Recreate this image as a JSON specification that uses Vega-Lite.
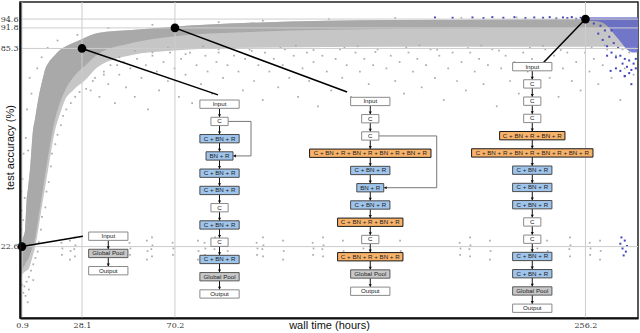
{
"$schema": "https://vega.github.io/schema/vega-lite/v6.json",
"width": 618, "height": 316,
"autosize": "none",
"padding": {"left": 20, "top": 2, "right": 2, "bottom": 15},
"background": "white",
"config": {"view": {"stroke": "#222", "strokeWidth": 1.5}},
"datasets": {
"band": [
{"t":0.3,"lo":12.5,"core":13.5,"hi":23},{"t":0.9,"lo":13.6,"core":15,"hi":24.7},{"t":2.3,"lo":14.6,"core":17,"hi":27.8},{"t":3.0,"lo":15.0,"core":18,"hi":37.3},{"t":3.6,"lo":15.2,"core":18.5,"hi":41},{"t":4.5,"lo":16.5,"core":20,"hi":46.8},{"t":5.9,"lo":20,"core":23,"hi":59.5},{"t":6.8,"lo":22.2,"core":25,"hi":63},{"t":8.2,"lo":27.8,"core":31,"hi":69},{"t":10.4,"lo":37.3,"core":41,"hi":76},{"t":11.3,"lo":41,"core":45,"hi":78.5},{"t":12.7,"lo":46.8,"core":51,"hi":80.5},{"t":15.9,"lo":59.5,"core":63,"hi":83.2},{"t":18.1,"lo":64.5,"core":68,"hi":84.8},{"t":20.4,"lo":69,"core":72,"hi":85.8},{"t":24,"lo":72,"core":76,"hi":87},{"t":27.2,"lo":74,"core":78.5,"hi":88},{"t":28.1,"lo":74.4,"core":79,"hi":88.3},{"t":35.3,"lo":79.4,"core":83.5,"hi":90.2},{"t":50.7,"lo":83.2,"core":87,"hi":91.1},{"t":68,"lo":84.6,"core":89,"hi":92.1},{"t":104,"lo":85.5,"core":90.5,"hi":93.4},{"t":172,"lo":85.8,"core":91.5,"hi":94.3},{"t":263,"lo":85.8,"core":91.8,"hi":94.6},{"t":280,"lo":85.8,"core":92,"hi":94.8}
],
"gp": [
{"t":32,"a":72},{"t":34,"a":76},{"t":36,"a":70},{"t":38,"a":78},{"t":40,"a":74},{"t":41,"a":80},{"t":43,"a":68},{"t":45,"a":77},{"t":47,"a":81},{"t":48,"a":73},{"t":50,"a":79},{"t":52,"a":70},{"t":53,"a":82},{"t":55,"a":76},{"t":57,"a":80},{"t":58,"a":66},{"t":60,"a":83},{"t":62,"a":78},{"t":63,"a":72},{"t":65,"a":81},{"t":67,"a":75},{"t":68,"a":84},{"t":70,"a":79},{"t":72,"a":70},{"t":73,"a":82},{"t":75,"a":77},{"t":77,"a":84},{"t":78,"a":68},{"t":80,"a":80},{"t":82,"a":74},{"t":84,"a":83},{"t":85,"a":78},{"t":87,"a":71},{"t":89,"a":81},{"t":90,"a":84},{"t":92,"a":76},{"t":94,"a":80},{"t":95,"a":67},{"t":97,"a":83},{"t":99,"a":78},{"t":101,"a":72},{"t":102,"a":82},{"t":104,"a":85},{"t":106,"a":75},{"t":108,"a":80},{"t":110,"a":69},{"t":111,"a":84},{"t":113,"a":78},{"t":115,"a":82},{"t":117,"a":73},{"t":119,"a":80},{"t":120,"a":85},{"t":122,"a":76},{"t":124,"a":83},{"t":126,"a":70},{"t":128,"a":79},{"t":130,"a":84},{"t":131,"a":75},{"t":133,"a":81},{"t":135,"a":67},{"t":137,"a":83},{"t":139,"a":78},{"t":141,"a":72},{"t":143,"a":82},{"t":145,"a":85},{"t":146,"a":76},{"t":148,"a":80},{"t":150,"a":70},{"t":152,"a":84},{"t":154,"a":78},{"t":156,"a":82},{"t":158,"a":74},{"t":160,"a":80},{"t":162,"a":85},{"t":164,"a":68},{"t":166,"a":79},{"t":168,"a":83},{"t":170,"a":75},{"t":172,"a":81},{"t":174,"a":71},{"t":176,"a":84},{"t":178,"a":78},{"t":180,"a":82},{"t":182,"a":73},{"t":184,"a":80},{"t":186,"a":85},{"t":188,"a":76},{"t":190,"a":83},{"t":192,"a":69},{"t":194,"a":79},{"t":196,"a":84},{"t":198,"a":75},{"t":200,"a":81},{"t":202,"a":72},{"t":204,"a":84},{"t":206,"a":78},{"t":208,"a":82},{"t":210,"a":74},{"t":212,"a":80},{"t":214,"a":85},{"t":216,"a":67},{"t":218,"a":79},{"t":220,"a":83},{"t":222,"a":75},{"t":224,"a":81},{"t":226,"a":71},{"t":228,"a":84},{"t":230,"a":78},{"t":232,"a":82},{"t":234,"a":73},{"t":236,"a":80},{"t":238,"a":85},{"t":240,"a":76},{"t":242,"a":83},{"t":244,"a":70},{"t":246,"a":79},{"t":248,"a":84},{"t":250,"a":75},{"t":252,"a":81},{"t":254,"a":72},{"t":256,"a":84},{"t":258,"a":78},{"t":260,"a":82},{"t":262,"a":74},{"t":264,"a":80},{"t":266,"a":85},{"t":268,"a":76},{"t":270,"a":83},{"t":272,"a":69},{"t":274,"a":79},{"t":276,"a":84},{"t":278,"a":77},
{"t":45,"a":82.5},{"t":60,"a":84},{"t":75,"a":83.5},{"t":90,"a":85},{"t":105,"a":84.5},{"t":118,"a":85.5},{"t":133,"a":84.8},{"t":147,"a":85.5},{"t":161,"a":84.2},{"t":175,"a":85.6},{"t":189,"a":84.9},{"t":203,"a":85.4},{"t":217,"a":84.6},{"t":231,"a":85.5},{"t":245,"a":84.8},{"t":259,"a":85.6},{"t":273,"a":85},{"t":52,"a":84.5},{"t":67,"a":85.6},{"t":83,"a":86},{"t":97,"a":85.3},{"t":125,"a":86.2},{"t":153,"a":86},{"t":181,"a":86.3},{"t":209,"a":86.2},{"t":237,"a":86.1},{"t":265,"a":86.3},
{"t":60,"a":92.8},{"t":90,"a":93.6},{"t":110,"a":94.1},{"t":140,"a":94.6},{"t":170,"a":94.9},{"t":200,"a":95},{"t":225,"a":95.1},{"t":250,"a":95.2},
{"t":0.5,"a":28},{"t":0.8,"a":34},{"t":0.6,"a":40},{"t":1.4,"a":31},{"t":1.1,"a":44},{"t":2.1,"a":38},{"t":1.6,"a":52},{"t":2.6,"a":57},{"t":3.7,"a":53},{"t":3.2,"a":66},{"t":5.2,"a":71},{"t":4.4,"a":76},{"t":7.8,"a":79},{"t":9.8,"a":82.5},{"t":12.5,"a":85.5},{"t":17,"a":87.8},{"t":26,"a":89.6},{"t":40,"a":91.8},
{"t":2,"a":10},{"t":3,"a":11.5},{"t":4,"a":13},{"t":5,"a":15},{"t":6,"a":17},{"t":7,"a":19},{"t":8,"a":21},{"t":8.5,"a":24},{"t":9.5,"a":28},{"t":10,"a":32},{"t":11.5,"a":35},{"t":12,"a":40},{"t":13,"a":43},{"t":14,"a":48},{"t":14.5,"a":52},{"t":16,"a":55},{"t":17,"a":58},{"t":18.5,"a":61},{"t":19.5,"a":64},{"t":21,"a":66},{"t":23,"a":68},{"t":25,"a":70},{"t":27,"a":71.5},{"t":30,"a":72.5},{"t":33,"a":75},{"t":38,"a":77},{"t":44,"a":80},{"t":2.5,"a":7},{"t":4,"a":9},{"t":1.5,"a":8},{"t":6,"a":12},{"t":3.5,"a":5},{"t":1,"a":10.5},
{"t":19,"a":20.0},{"t":19.2,"a":22.0},{"t":18.8,"a":23.8},
{"t":22.6,"a":18.5},{"t":22.9,"a":21.2},{"t":22.6,"a":24.5},
{"t":24.9,"a":19.5},{"t":24.6,"a":21.8},{"t":25.1,"a":23.0},{"t":24.9,"a":25.5},
{"t":49.8,"a":20.0},{"t":50.0,"a":22.0},{"t":49.6,"a":23.8},
{"t":57.5,"a":18.5},{"t":57.8,"a":21.2},{"t":57.5,"a":24.5},
{"t":59.8,"a":19.5},{"t":59.5,"a":21.8},{"t":60.0,"a":23.0},{"t":59.8,"a":25.5},
{"t":69.3,"a":20.0},{"t":69.5,"a":22.0},{"t":69.1,"a":23.8},
{"t":80.6,"a":18.5},{"t":80.9,"a":21.2},{"t":80.6,"a":24.5},
{"t":83.8,"a":20.0},{"t":84.0,"a":22.0},{"t":83.6,"a":23.8},
{"t":88.4,"a":19.5},{"t":88.1,"a":21.8},{"t":88.6,"a":23.0},{"t":88.4,"a":25.5},
{"t":93.8,"a":18.5},{"t":94.1,"a":21.2},{"t":93.8,"a":24.5},
{"t":107.4,"a":20.0},{"t":107.6,"a":22.0},{"t":107.2,"a":23.8},
{"t":110.1,"a":19.5},{"t":109.8,"a":21.8},{"t":110.3,"a":23.0},{"t":110.1,"a":25.5},
{"t":119.2,"a":18.5},{"t":119.5,"a":21.2},{"t":119.2,"a":24.5},
{"t":132.8,"a":20.0},{"t":133.0,"a":22.0},{"t":132.6,"a":23.8},
{"t":137.3,"a":19.5},{"t":137.0,"a":21.8},{"t":137.5,"a":23.0},{"t":137.3,"a":25.5},
{"t":146.3,"a":18.5},{"t":146.6,"a":21.2},{"t":146.3,"a":24.5},
{"t":155.4,"a":20.0},{"t":155.6,"a":22.0},{"t":155.2,"a":23.8},
{"t":172.2,"a":18.5},{"t":172.5,"a":21.2},{"t":172.2,"a":24.5},
{"t":199.4,"a":20.0},{"t":199.6,"a":22.0},{"t":199.2,"a":23.8},
{"t":203.9,"a":19.5},{"t":203.6,"a":21.8},{"t":204.1,"a":23.0},{"t":203.9,"a":25.5},
{"t":212.9,"a":18.5},{"t":213.2,"a":21.2},{"t":212.9,"a":24.5},
{"t":234.2,"a":20.0},{"t":234.4,"a":22.0},{"t":234.0,"a":23.8},
{"t":238.8,"a":18.5},{"t":239.1,"a":21.2},{"t":238.8,"a":24.5},
{"t":249.2,"a":19.5},{"t":248.9,"a":21.8},{"t":249.4,"a":23.0},{"t":249.2,"a":25.5},
{"t":258.3,"a":20.0},{"t":258.5,"a":22.0},{"t":258.1,"a":23.8},
{"t":262.8,"a":18.5},{"t":263.1,"a":21.2},{"t":262.8,"a":24.5}
],
"bband": [
{"t":256,"lo":94.2,"hi":95.2},{"t":262,"lo":93.8,"hi":95.2},{"t":266,"lo":92.5,"hi":95.2},{"t":269,"lo":90,"hi":95.2},{"t":272,"lo":87.5,"hi":95.2},{"t":275,"lo":85,"hi":95.2},{"t":278,"lo":84,"hi":95.2},{"t":280,"lo":84,"hi":95.2}
],
"bp": [
{"t":262,"a":90},{"t":264,"a":88},{"t":265,"a":91},{"t":266,"a":86},{"t":267,"a":89},{"t":268,"a":84},{"t":269,"a":87},{"t":270,"a":82.5},{"t":271,"a":85.5},{"t":272,"a":83},{"t":273,"a":80.5},{"t":274,"a":82},{"t":275,"a":79.5},{"t":276,"a":81.5},{"t":277,"a":78.5},{"t":278,"a":80.5},{"t":279,"a":82},{"t":270,"a":79},{"t":274,"a":76.5},{"t":277,"a":74},{"t":266,"a":83},{"t":263,"a":92.5},{"t":260,"a":93.2},{"t":268,"a":91},{"t":279,"a":79},{"t":276,"a":77.5},
{"t":188,"a":95.1},{"t":196,"a":95.0},{"t":205,"a":95.1},{"t":210,"a":94.9},{"t":214,"a":95.2},{"t":219,"a":95.0},{"t":224,"a":95.2},{"t":229,"a":94.9},{"t":233,"a":95.1},{"t":237,"a":95.0},{"t":240,"a":95.2},{"t":243,"a":94.8},{"t":246,"a":95.1},{"t":248,"a":94.9},{"t":250,"a":95.2},{"t":252,"a":94.7},{"t":254,"a":95.0},
{"t":267.6,"a":78.2},{"t":272,"a":78.2},{"t":274,"a":76.6},
{"t":272,"a":23.5},{"t":273,"a":22},{"t":274,"a":24.5},{"t":274.5,"a":21},{"t":275,"a":22.8},{"t":273.5,"a":19.8},{"t":272.5,"a":25.5}
],
"gx": [{"v":0.9},{"v":28.1},{"v":70.2},{"v":256.2}],
"gy": [{"v":22.6},{"v":85.3},{"v":91.8},{"v":94.6}],
"call": [
{"g":0,"t":0.9,"a":22.6},{"g":0,"t":28.5,"a":25.9},{"g":1,"t":28.1,"a":85.3},{"g":1,"t":89.7,"a":70.6},{"g":2,"t":70.2,"a":91.8},{"g":2,"t":148.2,"a":71.5},{"g":3,"t":256.2,"a":94.6},{"g":3,"t":237.0,"a":80.7}
],
"dots": [{"t":0.9,"a":22.6},{"t":28.1,"a":85.3},{"t":70.2,"a":91.8},{"t":256.2,"a":94.6}],
"skip": [
{"g":1,"o":1,"t":94.3,"a":62.21},{"g":1,"o":2,"t":104.66,"a":62.21},{"g":1,"o":3,"t":104.66,"a":51.29},{"g":1,"o":4,"t":96.5,"a":51.29},
{"g":2,"o":1,"t":162.6,"a":57.61},{"g":2,"o":2,"t":188.8,"a":57.61},{"g":2,"o":3,"t":188.8,"a":41.23},{"g":2,"o":4,"t":164.8,"a":41.23}
],
"skiphead": [{"t":96.5,"a":51.29},{"t":164.8,"a":41.23}],
"arrows": [
{"t":40.0,"f":24.57,"to":21.75},{"t":40.0,"f":19.11,"to":16.29},
{"t":90.4,"f":66.35,"to":63.52},{"t":90.4,"f":60.89,"to":58.06},{"t":90.4,"f":55.43,"to":52.60},{"t":90.4,"f":49.97,"to":47.14},{"t":90.4,"f":44.51,"to":41.68},{"t":90.4,"f":39.05,"to":36.22},{"t":90.4,"f":33.59,"to":30.76},{"t":90.4,"f":28.13,"to":25.30},{"t":90.4,"f":22.67,"to":19.84},{"t":90.4,"f":17.21,"to":14.38},{"t":90.4,"f":11.75,"to":8.92},
{"t":158.7,"f":67.21,"to":64.38},{"t":158.7,"f":61.75,"to":58.92},{"t":158.7,"f":56.29,"to":53.46},{"t":158.7,"f":50.83,"to":48.0},{"t":158.7,"f":45.37,"to":42.54},{"t":158.7,"f":39.91,"to":37.08},{"t":158.7,"f":34.45,"to":31.62},{"t":158.7,"f":28.99,"to":26.16},{"t":158.7,"f":23.53,"to":20.70},{"t":158.7,"f":18.07,"to":15.24},{"t":158.7,"f":12.61,"to":9.78},
{"t":232.1,"f":78.22,"to":75.40},{"t":232.1,"f":72.76,"to":69.94},{"t":232.1,"f":67.30,"to":64.48},{"t":232.1,"f":61.84,"to":59.02},{"t":232.1,"f":56.38,"to":53.56},{"t":232.1,"f":50.92,"to":48.10},{"t":232.1,"f":45.46,"to":42.63},{"t":232.1,"f":40.0,"to":37.17},{"t":232.1,"f":34.54,"to":31.71},{"t":232.1,"f":29.08,"to":26.25},{"t":232.1,"f":23.62,"to":20.79},{"t":232.1,"f":18.16,"to":15.33},{"t":232.1,"f":12.70,"to":9.87},{"t":232.1,"f":7.24,"to":4.41}
],
"boxes": [
{"t1":31.1,"t2":48.9,"a1":27.21,"a2":24.57,"tc":40.0,"ac":25.89,"lab":"Input","k":"w"},
{"t1":31.1,"t2":48.9,"a1":21.75,"a2":19.11,"tc":40.0,"ac":20.43,"lab":"Global Pool","k":"g"},
{"t1":31.1,"t2":48.9,"a1":16.29,"a2":13.65,"tc":40.0,"ac":14.97,"lab":"Output","k":"w"},
{"t1":81.5,"t2":99.3,"a1":68.98,"a2":66.35,"tc":90.4,"ac":67.67,"lab":"Input","k":"w"},
{"t1":86.5,"t2":94.3,"a1":63.52,"a2":60.89,"tc":90.4,"ac":62.21,"lab":"C","k":"w"},
{"t1":81.5,"t2":99.3,"a1":58.06,"a2":55.43,"tc":90.4,"ac":56.75,"lab":"C + BN + R","k":"b"},
{"t1":84.3,"t2":96.5,"a1":52.60,"a2":49.97,"tc":90.4,"ac":51.29,"lab":"BN + R","k":"b"},
{"t1":81.5,"t2":99.3,"a1":47.14,"a2":44.51,"tc":90.4,"ac":45.83,"lab":"C + BN + R","k":"b"},
{"t1":81.5,"t2":99.3,"a1":41.68,"a2":39.05,"tc":90.4,"ac":40.37,"lab":"C + BN + R","k":"b"},
{"t1":86.5,"t2":94.3,"a1":36.22,"a2":33.59,"tc":90.4,"ac":34.91,"lab":"C","k":"w"},
{"t1":81.5,"t2":99.3,"a1":30.76,"a2":28.13,"tc":90.4,"ac":29.45,"lab":"C + BN + R","k":"b"},
{"t1":86.5,"t2":94.3,"a1":25.30,"a2":22.67,"tc":90.4,"ac":23.99,"lab":"C","k":"w"},
{"t1":81.5,"t2":99.3,"a1":19.84,"a2":17.21,"tc":90.4,"ac":18.53,"lab":"C + BN + R","k":"b"},
{"t1":81.5,"t2":99.3,"a1":14.38,"a2":11.75,"tc":90.4,"ac":13.07,"lab":"Global Pool","k":"g"},
{"t1":81.5,"t2":99.3,"a1":8.92,"a2":6.29,"tc":90.4,"ac":7.61,"lab":"Output","k":"w"},
{"t1":149.8,"t2":167.6,"a1":69.84,"a2":67.21,"tc":158.7,"ac":68.53,"lab":"Input","k":"w"},
{"t1":154.8,"t2":162.6,"a1":64.38,"a2":61.75,"tc":158.7,"ac":63.07,"lab":"C","k":"w"},
{"t1":154.8,"t2":162.6,"a1":58.92,"a2":56.29,"tc":158.7,"ac":57.61,"lab":"C","k":"w"},
{"t1":131.2,"t2":186.2,"a1":53.46,"a2":50.83,"tc":158.7,"ac":52.15,"lab":"C + BN + R + BN + R + BN + R + BN + R","k":"o"},
{"t1":149.8,"t2":167.6,"a1":48.0,"a2":45.37,"tc":158.7,"ac":46.69,"lab":"C + BN + R","k":"b"},
{"t1":152.6,"t2":164.8,"a1":42.54,"a2":39.91,"tc":158.7,"ac":41.23,"lab":"BN + R","k":"b"},
{"t1":149.8,"t2":167.6,"a1":37.08,"a2":34.45,"tc":158.7,"ac":35.77,"lab":"C + BN + R","k":"b"},
{"t1":143.9,"t2":173.5,"a1":31.62,"a2":28.99,"tc":158.7,"ac":30.31,"lab":"C + BN + R + BN + R","k":"o"},
{"t1":154.8,"t2":162.6,"a1":26.16,"a2":23.53,"tc":158.7,"ac":24.85,"lab":"C","k":"w"},
{"t1":143.9,"t2":173.5,"a1":20.70,"a2":18.07,"tc":158.7,"ac":19.39,"lab":"C + BN + R + BN + R","k":"o"},
{"t1":149.8,"t2":167.6,"a1":15.24,"a2":12.61,"tc":158.7,"ac":13.93,"lab":"Global Pool","k":"g"},
{"t1":149.8,"t2":167.6,"a1":9.78,"a2":7.15,"tc":158.7,"ac":8.47,"lab":"Output","k":"w"},
{"t1":223.2,"t2":241.0,"a1":80.86,"a2":78.22,"tc":232.1,"ac":79.54,"lab":"Input","k":"w"},
{"t1":228.2,"t2":236.0,"a1":75.40,"a2":72.76,"tc":232.1,"ac":74.08,"lab":"C","k":"w"},
{"t1":228.2,"t2":236.0,"a1":69.94,"a2":67.30,"tc":232.1,"ac":68.62,"lab":"C","k":"w"},
{"t1":228.2,"t2":236.0,"a1":64.48,"a2":61.84,"tc":232.1,"ac":63.16,"lab":"C","k":"w"},
{"t1":217.3,"t2":246.9,"a1":59.02,"a2":56.38,"tc":232.1,"ac":57.70,"lab":"C + BN + R + BN + R","k":"o"},
{"t1":204.6,"t2":259.6,"a1":53.56,"a2":50.92,"tc":232.1,"ac":52.24,"lab":"C + BN + R + BN + R + BN + R + BN + R","k":"o"},
{"t1":223.2,"t2":241.0,"a1":48.10,"a2":45.46,"tc":232.1,"ac":46.78,"lab":"C + BN + R","k":"b"},
{"t1":223.2,"t2":241.0,"a1":42.63,"a2":40.0,"tc":232.1,"ac":41.32,"lab":"C + BN + R","k":"b"},
{"t1":223.2,"t2":241.0,"a1":37.17,"a2":34.54,"tc":232.1,"ac":35.86,"lab":"C + BN + R","k":"b"},
{"t1":228.2,"t2":236.0,"a1":31.71,"a2":29.08,"tc":232.1,"ac":30.40,"lab":"C","k":"w"},
{"t1":228.2,"t2":236.0,"a1":26.25,"a2":23.62,"tc":232.1,"ac":24.94,"lab":"C","k":"w"},
{"t1":223.2,"t2":241.0,"a1":20.79,"a2":18.16,"tc":232.1,"ac":19.48,"lab":"C + BN + R","k":"b"},
{"t1":223.2,"t2":241.0,"a1":15.33,"a2":12.70,"tc":232.1,"ac":14.02,"lab":"C + BN + R","k":"b"},
{"t1":223.2,"t2":241.0,"a1":9.87,"a2":7.24,"tc":232.1,"ac":8.56,"lab":"Global Pool","k":"g"},
{"t1":223.2,"t2":241.0,"a1":4.41,"a2":1.78,"tc":232.1,"ac":3.10,"lab":"Output","k":"w"}
]
},
"layer": [
{"data":{"name":"band"},"mark":{"type":"area","color":"#c6c6c6","interpolate":"monotone"},
 "encoding":{
  "x":{"field":"t","type":"quantitative","scale":{"domain":[0,280],"nice":false,"zero":false},
   "axis":{"values":[0.9,28.1,70.2,256.2],"format":".1f","grid":false,"ticks":false,"tickSize":0,"labelFlush":false,"labelOverlap":false,"labelFont":"DejaVu Serif","labelFontSize":8,"labelColor":"#333","labelPadding":3,"domainColor":"#111","domainWidth":2,"zindex":1,
    "title":"wall time (hours)","titleFont":"Liberation Sans","titleFontSize":11,"titleFontWeight":"normal","titleColor":"#111","titleY":7,"titleBaseline":"middle"}},
  "y":{"field":"hi","type":"quantitative","scale":{"domain":[0,100],"nice":false,"zero":false},
   "axis":{"values":[22.6,85.3,91.8,94.6],"format":".1f","grid":false,"ticks":false,"tickSize":0,"labelFlush":false,"labelOverlap":false,"labelFont":"DejaVu Serif","labelFontSize":8,"labelColor":"#333","labelPadding":2,"domainColor":"#111","domainWidth":2,"zindex":1,
    "title":"test accuracy (%)","titleFont":"Liberation Sans","titleFontSize":11,"titleFontWeight":"normal","titleColor":"#111","titleX":-10,"titleY":145,"titleBaseline":"middle","titleAlign":"center","titleAngle":-90}},
  "y2":{"field":"lo"}}},
{"data":{"name":"band"},"mark":{"type":"area","color":"#a9a9a9","interpolate":"monotone"},
 "encoding":{"x":{"field":"t","type":"quantitative"},
  "y":{"field":"hi","type":"quantitative"},"y2":{"field":"core"}}},
{"data":{"name":"gp"},"mark":{"type":"point","shape":"square","filled":true,"size":3,"color":"#acacac","opacity":1},
 "encoding":{"x":{"field":"t","type":"quantitative"},"y":{"field":"a","type":"quantitative"}}},
{"data":{"name":"bband"},"mark":{"type":"area","color":"#5d61c9","opacity":0.8,"interpolate":"monotone"},
 "encoding":{"x":{"field":"t","type":"quantitative"},"y":{"field":"hi","type":"quantitative"},"y2":{"field":"lo"}}},
{"data":{"name":"bp"},"mark":{"type":"point","shape":"square","filled":true,"size":4,"color":"#4347bf","opacity":1},
 "encoding":{"x":{"field":"t","type":"quantitative"},"y":{"field":"a","type":"quantitative"}}},
{"data":{"name":"gx"},"mark":{"type":"rule","color":"#cdcdcd","strokeWidth":1},
 "encoding":{"x":{"field":"v","type":"quantitative"}}},
{"data":{"name":"gy"},"mark":{"type":"rule","color":"#cdcdcd","strokeWidth":1},
 "encoding":{"y":{"field":"v","type":"quantitative"}}},
{"data":{"name":"call"},"mark":{"type":"line","color":"#000","strokeWidth":1.5},
 "encoding":{"x":{"field":"t","type":"quantitative"},"y":{"field":"a","type":"quantitative"},"detail":{"field":"g"}}},
{"data":{"name":"dots"},"mark":{"type":"circle","color":"#000","size":75,"opacity":1},
 "encoding":{"x":{"field":"t","type":"quantitative"},"y":{"field":"a","type":"quantitative"}}},
{"data":{"name":"skip"},"mark":{"type":"line","color":"#777","strokeWidth":1},
 "encoding":{"x":{"field":"t","type":"quantitative"},"y":{"field":"a","type":"quantitative"},"detail":{"field":"g"},"order":{"field":"o"}}},
{"data":{"name":"skiphead"},"mark":{"type":"point","shape":"triangle-left","filled":true,"size":10,"color":"#111","opacity":1,"xOffset":1.6},
 "encoding":{"x":{"field":"t","type":"quantitative"},"y":{"field":"a","type":"quantitative"}}},
{"data":{"name":"arrows"},"mark":{"type":"rule","color":"#111","strokeWidth":1},
 "encoding":{"x":{"field":"t","type":"quantitative"},"y":{"field":"f","type":"quantitative"},"y2":{"field":"to"}}},
{"data":{"name":"arrows"},"mark":{"type":"point","shape":"triangle-down","filled":true,"size":10,"color":"#111","opacity":1,"yOffset":-1.6},
 "encoding":{"x":{"field":"t","type":"quantitative"},"y":{"field":"to","type":"quantitative"}}},
{"data":{"name":"boxes"},"mark":{"type":"rect"},
 "encoding":{"x":{"field":"t1","type":"quantitative"},"x2":{"field":"t2"},"y":{"field":"a1","type":"quantitative"},"y2":{"field":"a2"},
  "fill":{"field":"k","type":"nominal","scale":{"domain":["w","b","o","g"],"range":["#ffffff","#9fc5ed","#f8b26a","#c8c8c8"]},"legend":null},
  "stroke":{"field":"k","type":"nominal","scale":{"domain":["w","b","o","g"],"range":["#8a8a8a","#4a4a4a","#1a1a1a","#5a5a5a"]},"legend":null},
  "strokeWidth":{"field":"k","type":"nominal","scale":{"domain":["w","b","o","g"],"range":[1,1,1.4,1]},"legend":null}}},
{"data":{"name":"boxes"},"mark":{"type":"text","font":"Liberation Sans","fontSize":6.2,"color":"#222","align":"center","baseline":"middle"},
 "encoding":{"x":{"field":"tc","type":"quantitative"},"y":{"field":"ac","type":"quantitative"},"text":{"field":"lab"}}}
]
}
